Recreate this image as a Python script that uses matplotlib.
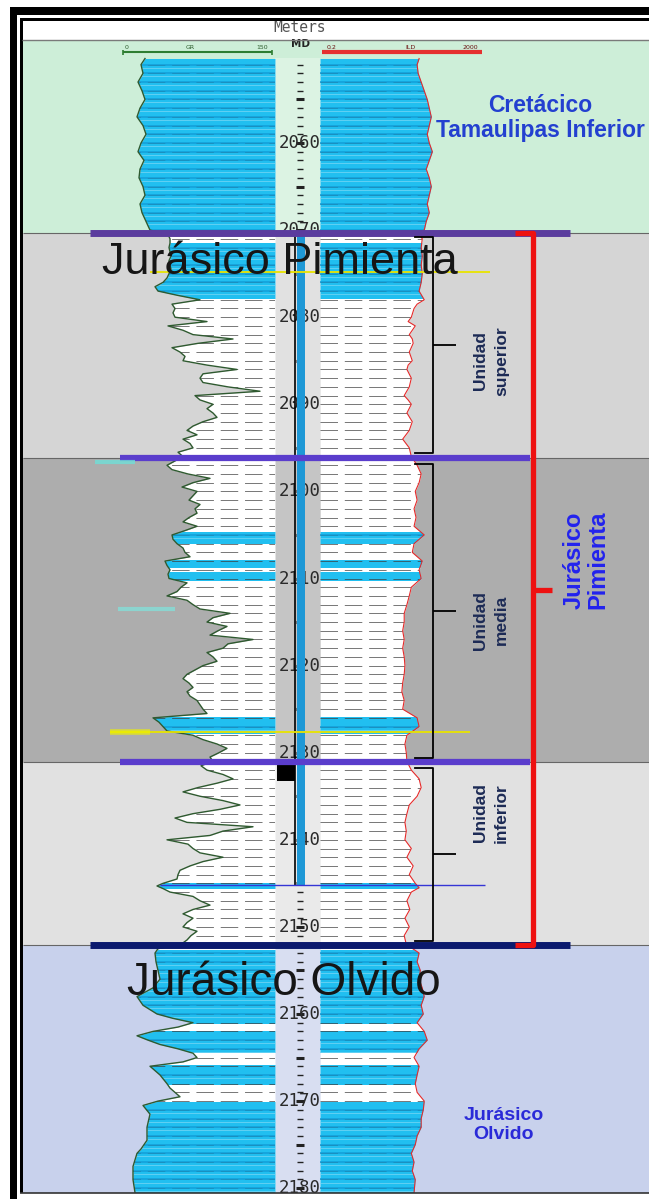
import numpy as np
import matplotlib.pyplot as plt
from matplotlib.patches import Rectangle

# ---- log curves: (depth m MD, value) ----
gr_points = [  # gamma ray, API
    (2050.3, 22), (2051, 18), (2052, 20), (2053, 15), (2054, 19), (2055, 22), (2056, 17), (2057, 14),
    (2058, 20), (2059, 23), (2060, 18), (2061, 15), (2062, 21), (2063, 17), (2064, 16), (2065, 20),
    (2066, 22), (2067, 17), (2068, 19), (2069, 23), (2070, 27),
    (2070.5, 45), (2071, 47), (2071.5, 47), (2072, 46), (2072.5, 47), (2073, 48), (2073.5, 46), (2074, 47),
    (2074.5, 48), (2075, 46), (2075.5, 44), (2076, 40), (2076.5, 32), (2077, 35), (2077.5, 55), (2078, 77),
    (2078.5, 49), (2079, 52), (2079.5, 50), (2080, 52), (2080.5, 84), (2081, 45), (2081.5, 60), (2082, 70),
    (2082.5, 110), (2083, 75), (2083.5, 49), (2084, 57), (2084.5, 62), (2085, 60), (2085.5, 84), (2086, 114),
    (2086.5, 80), (2087, 77), (2087.5, 80), (2088, 105), (2088.5, 137), (2089, 72), (2089.5, 77), (2090, 90),
    (2090.5, 84), (2091, 90), (2091.5, 94), (2092, 80), (2092.5, 70), (2093, 64), (2093.5, 74), (2094, 60),
    (2094.5, 67), (2095, 70), (2095.5, 55), (2096, 60),
    (2096.5, 52), (2097, 44), (2097.5, 49), (2098, 65), (2098.5, 87), (2099, 70), (2099.5, 59), (2100, 74),
    (2100.5, 70), (2101, 66), (2101.5, 77), (2102, 72), (2102.5, 74), (2103, 66), (2103.5, 60), (2104, 74),
    (2104.5, 62), (2105, 49), (2105.5, 50), (2106, 54), (2106.5, 60), (2107, 62), (2107.5, 67), (2108, 42),
    (2108.5, 44), (2109, 47), (2109.5, 45), (2110, 46), (2110.5, 64), (2111, 58), (2111.5, 54), (2112, 44),
    (2112.5, 64), (2113, 70), (2113.5, 77), (2114, 107), (2114.5, 90), (2115, 84), (2115.5, 104), (2116, 95),
    (2116.5, 87), (2117, 130), (2117.5, 105), (2118, 100), (2118.5, 84), (2119, 90), (2119.5, 94), (2120, 80),
    (2120.5, 72), (2121, 64), (2121.5, 60), (2122, 66), (2122.5, 70), (2123, 64), (2123.5, 67), (2124, 74),
    (2124.5, 77), (2125, 80), (2125.5, 84), (2126, 30), (2126.5, 36), (2127, 40), (2127.5, 44), (2128, 70),
    (2128.5, 80), (2129, 94), (2129.5, 104), (2130, 96), (2130.5, 87), (2131, 90),
    (2131.5, 78), (2132, 84), (2132.5, 100), (2133, 110), (2133.5, 94), (2134, 75), (2134.5, 60), (2135, 77),
    (2135.5, 100), (2136, 117), (2136.5, 97), (2137, 70), (2137.5, 52), (2138, 64), (2138.5, 130), (2139, 100),
    (2139.5, 87), (2140, 44), (2140.5, 65), (2141, 70), (2141.5, 77), (2142, 100), (2142.5, 80), (2143, 67),
    (2143.5, 57), (2144, 55), (2144.5, 54), (2145, 40), (2145.3, 34), (2145.6, 40), (2146, 47), (2146.5, 70),
    (2147, 77), (2147.5, 87), (2148, 70), (2148.5, 60), (2149, 70), (2149.5, 64), (2150, 60), (2150.5, 74),
    (2151, 68), (2151.5, 64), (2152, 58),
    (2152.5, 35), (2153, 32), (2154, 33), (2155, 35), (2156, 37), (2157, 30), (2158, 14), (2159, 20),
    (2160, 34), (2160.5, 50), (2161, 70), (2161.5, 55), (2162, 30), (2162.5, 14), (2163, 25), (2163.5, 37),
    (2164, 55), (2164.5, 70), (2165, 74), (2165.5, 60), (2166, 27), (2167, 37), (2168, 44), (2168.5, 47),
    (2169, 52), (2169.5, 57), (2170, 35), (2170.5, 20), (2171.5, 27), (2173, 24), (2174.5, 24), (2175.5, 18),
    (2176, 14), (2177.5, 10), (2179, 10), (2180.5, 12),
]
ild_points = [  # deep resistivity, ohm-m
    (2050.3, 56), (2051, 50), (2052, 53), (2053, 63), (2054, 75), (2055, 89), (2056, 100), (2057, 112),
    (2058, 100), (2059, 89), (2060, 100), (2061, 119), (2062, 100), (2063, 84), (2064, 100), (2065, 112),
    (2066, 100), (2067, 89), (2068, 100), (2069, 84), (2070, 75),
    (2070.5, 56), (2071, 67), (2072, 63), (2073, 67), (2074, 63), (2075, 67), (2076, 63), (2077, 56),
    (2078, 75), (2078.5, 50), (2079, 42), (2080, 36), (2080.5, 30), (2081, 45), (2082, 32), (2082.5, 38),
    (2083, 40), (2084, 32), (2085, 38), (2085.5, 30), (2086, 28), (2087, 36), (2088, 32), (2089, 24),
    (2089.5, 30), (2090, 36), (2091, 28), (2092, 38), (2093, 32), (2094, 22), (2095, 32), (2096, 36),
    (2097, 50), (2098, 63), (2099, 56), (2100, 45), (2101, 50), (2102, 42), (2103, 47), (2104, 42),
    (2105, 75), (2106, 42), (2107, 38), (2108, 67), (2109, 56), (2110, 63), (2111, 36), (2112, 32),
    (2113, 28), (2114, 24), (2115, 24), (2116, 22), (2117, 24), (2118, 22), (2119, 24), (2120, 25),
    (2121, 24), (2122, 22), (2123, 21), (2124, 24), (2125, 22), (2126, 50), (2127, 56), (2128, 28),
    (2129, 25), (2130, 27), (2131, 28),
    (2132, 36), (2133, 56), (2134, 63), (2135, 50), (2136, 32), (2137, 28), (2138, 25), (2139, 27),
    (2140, 25), (2141, 36), (2142, 28), (2143, 40), (2144, 32), (2145, 45), (2145.5, 56), (2146, 36),
    (2147, 28), (2148, 33), (2149, 25), (2150, 32), (2151, 24), (2152, 27),
    (2153, 56), (2154, 50), (2155, 60), (2156, 56), (2157, 67), (2158, 75), (2159, 63), (2160, 71),
    (2161, 50), (2162, 75), (2163, 89), (2164, 56), (2165, 42), (2166, 56), (2167, 50), (2168, 45),
    (2169, 50), (2170, 75), (2171, 71), (2172, 63), (2173, 63), (2174, 50), (2175, 45), (2176, 36),
    (2177, 42), (2178, 38), (2179, 45), (2180.5, 42),
]

# carbonate beds shown with cyan fill (top, base)
bed_tops = [2050.2, 2071.5, 2104.7, 2107.9, 2109.3, 2125.9, 2145.0, 2152.6, 2162.0, 2165.9, 2170.1]
bed_bases = [2070.3, 2077.8, 2105.9, 2108.7, 2110.2, 2127.7, 2145.5, 2161.0, 2164.4, 2168.0, 2180.6]

# formation / unit zones
zone_tops = [2048.2, 2070.3, 2096.2, 2131.1, 2152.1]
zone_bases = [2070.3, 2096.2, 2131.1, 2152.1, 2180.6]
zone_colors = ['#cdeed8', '#d5d5d5', '#adadad', '#e1e1e1', '#c8d1ec']

unit_tops = [2070.8, 2096.8, 2131.7]
unit_bases = [2095.6, 2130.6, 2151.6]
unit_labels = ['Unidad\nsuperior', 'Unidad\nmedia', 'Unidad\ninferior']
unit_label_depths = [2085.0, 2114.8, 2136.9]

depth_labels = list(range(2060, 2181, 10))
core_top, core_base = 2070.3, 2145.2

gr_depth, gr_api = np.array(gr_points).T
ild_depth, ild_ohm = np.array(ild_points).T

# ---- layout (pixels of the 649x1199 picture) ----
W, H, DPI = 649, 1199, 100
PXM = 8.71                      # pixels per metre
D0 = 2060 - 143 / PXM           # depth at top edge
D1 = 2060 + (H - 143) / PXM     # depth at bottom edge
CYAN = '#21bff0'


def dep(y):
    return 2060 + (y - 143) / PXM


fig = plt.figure(figsize=(W / DPI, H / DPI), dpi=DPI)
fig.patch.set_facecolor('white')


def track(x0, x1, z):
    ax = fig.add_axes([x0 / W, 0, (x1 - x0) / W, 1], zorder=z)
    ax.set_ylim(D1, D0)
    ax.set_axis_off()
    return ax


# background zones
ax_bg = track(0, W, 0)
ax_bg.set_xlim(0, W)
for t, b, c in zip(zone_tops, zone_bases, zone_colors):
    ax_bg.fill_between([23, W], t, b, color=c, lw=0)
ax_bg.hlines(zone_tops[1:], 23, W, color='#666666', lw=0.8)
ax_bg.fill_between([275, 320], 2050.2, 2180.6, color='white', alpha=0.3, lw=0)

grid_depths = np.arange(2051, 2181, 1)


def fill_track(ax, depth, val, edge, lo, hi):
    white = ax.fill_betweenx(depth, val, edge, color='white', lw=0)
    outline = white.get_paths()[0]
    g = ax.hlines(grid_depths, lo, hi, colors='#3c3c3c', lw=0.7, alpha=0.7,
                  linestyles=(0, (18, 7)))
    g.set_clip_path(outline, ax.transData)
    for t, b in zip(bed_tops, bed_bases):
        f = ax.fill_betweenx(depth, val, edge, color=CYAN, lw=0)
        f.set_clip_path(Rectangle((lo, t), hi - lo, b - t, transform=ax.transData))
        inside = grid_depths[(grid_depths > t + 0.2) & (grid_depths < b - 0.2)]
        if len(inside):
            s = ax.hlines(inside, lo, hi, colors='#139ed8', lw=1.1)
            s.set_clip_path(outline, ax.transData)
            s2 = ax.hlines(inside + 0.35, lo, hi, colors='#7fd8f4', lw=0.6, alpha=0.8)
            s2.set_clip_path(outline, ax.transData)


# GR track
ax_gr = track(123, 275, 1)
ax_gr.set_xlim(0, 152)
fill_track(ax_gr, gr_depth, gr_api, 152, 0, 152)
ax_gr.plot(gr_api, gr_depth, color='#2f5a30', lw=1.0)

# resistivity track
ax_res = track(320, 482, 1)
ax_res.set_xscale('log')
ax_res.set_xlim(0.2, 2000)
fill_track(ax_res, ild_depth, ild_ohm, 0.2, 0.2, 2000)
ax_res.plot(ild_ohm, ild_depth, color='#e52a2a', lw=0.8)

# overlay: depth column, horizons, brackets, labels
ax = track(0, W, 3)
ax.set_xlim(0, W)

ax.hlines(grid_depths, 297, 303, color='#222222', lw=1.0)
ax.hlines(grid_depths[grid_depths % 5 == 0], 296, 304, color='#222222', lw=2.2)
for d in depth_labels:
    ax.text(300, d, str(d), ha='center', va='center', family='DejaVu Sans Mono',
            fontsize=12.5, color='#2a2a2a', zorder=2)

ax.fill_betweenx([core_top, core_base], 297, 305, color='#1e98d6', lw=0, zorder=5)
ax.vlines(295, core_top, core_base, color='black', lw=1.2, zorder=5)
ax.fill_betweenx([dep(765), dep(781)], 277, 295, color='black', lw=0, zorder=5)

# horizons
ax.hlines(zone_tops[1], 90, 570, color='#5b3c9e', lw=5, zorder=6)
ax.hlines(zone_tops[2:4], 120, 530, color='#5a3dcc', lw=4.5, zorder=6)
ax.hlines(zone_tops[4], 90, 570, color='#0b1a6e', lw=5, zorder=6)
ax.hlines(dep(272), 150, 490, color='#e8e400', lw=1.3, zorder=6)
ax.hlines(dep(732), 110, 470, color='#e8e400', lw=1.3, zorder=6)
ax.hlines(dep(732), 110, 150, color='#eef000', lw=4, alpha=0.7, zorder=6)
ax.hlines(dep(885), 160, 485, color='#3535d5', lw=1.0, zorder=6)
ax.hlines(dep(462), 95, 135, color='#6fe0d8', lw=3, alpha=0.8, zorder=6)
ax.hlines(dep(609), 118, 175, color='#7fe6de', lw=3, alpha=0.7, zorder=6)

# unit brackets
for t, b, lab, yl in zip(unit_tops, unit_bases, unit_labels, unit_label_depths):
    ax.plot([415, 433, 433, 415], [t, t, b, b], color='black', lw=1.3, zorder=6)
    ax.hlines((t + b) / 2, 433, 456, color='black', lw=1.3, zorder=6)
    ax.text(491, yl, lab, rotation=90, ha='center', va='center', fontsize=12.5,
            fontweight='bold', color='#1c2a55', family='Liberation Sans',
            linespacing=1.5, zorder=6)

# Pimienta bracket
ax.plot([515, 533, 533, 515], [zone_tops[1], zone_tops[1], zone_tops[4], zone_tops[4]],
        color='#ee1111', lw=3.8, zorder=7, solid_capstyle='butt')
ax.hlines(dep(590), 533, 552, color='#ee1111', lw=3.8, zorder=7)
ax.text(586, dep(560), 'Jurásico\nPimienta', rotation=90, ha='center', va='center',
        fontsize=17, fontweight='bold', color='#2222ee', family='Liberation Sans',
        linespacing=1.05, zorder=7)

ax.text(540, dep(118), 'Cretácico\nTamaulipas Inferior', ha='center', va='center',
        fontsize=16.5, fontweight='bold', color='#2340d0', family='Liberation Sans',
        linespacing=1.1, zorder=7)
ax.text(504, dep(1125), 'Jurásico\nOlvido', ha='center', va='center', fontsize=14,
        fontweight='bold', color='#2a2ad8', family='Liberation Sans',
        linespacing=1.2, zorder=7)
ax.text(280, dep(262), 'Jurásico Pimienta', ha='center', va='center', fontsize=32.5,
        color='#161616', family='Liberation Sans', zorder=8)
ax.text(284, dep(983), 'Jurásico Olvido', ha='center', va='center', fontsize=33,
        color='#161616', family='Liberation Sans', zorder=8)

# header
ax.text(300, dep(28), 'Meters', ha='center', va='center', family='DejaVu Sans Mono',
        fontsize=10.5, color='#555555')
ax.text(300, dep(44), 'MD', ha='center', va='center', fontsize=7.5,
        fontweight='bold', color='#222222')
ax.hlines(dep(52), 123, 272, color='#2e7d32', lw=1.5)
ax.vlines([123, 272], dep(50), dep(55), color='#2e7d32', lw=1.2)
ax.hlines(dep(52), 322, 482, color='#e53030', lw=3)
for x, s, c in [(127, '0', '#2e5e2e'), (190, 'GR', '#2e5e2e'), (262, '150', '#2e5e2e'),
                (332, '0.2', '#6b1010'), (410, 'ILD', '#6b1010'), (470, '2000', '#6b1010')]:
    ax.text(x, dep(48), s, ha='center', va='center', fontsize=4.5, color=c)

# frame
ax_fr = fig.add_axes([0, 0, 1, 1], zorder=10)
ax_fr.set_xlim(0, W)
ax_fr.set_ylim(H, 0)
ax_fr.set_axis_off()
ax_fr.add_patch(Rectangle((10, 7), 7, H - 7, color='black', lw=0))
ax_fr.add_patch(Rectangle((10, 7), W - 10, 8, color='black', lw=0))
ax_fr.add_patch(Rectangle((20, 18), 2.5, 1176, color='black', lw=0))
ax_fr.add_patch(Rectangle((20, 18), W - 20, 2.5, color='black', lw=0))
ax_fr.add_patch(Rectangle((20, 1193), W - 20, 6, color='white', lw=0))
ax_fr.hlines(1193, 20, W, color='#333333', lw=1.2)
ax_fr.hlines(40, 22, W, color='#7a7a7a', lw=1.0)

fig.savefig('out.png', dpi=DPI)
